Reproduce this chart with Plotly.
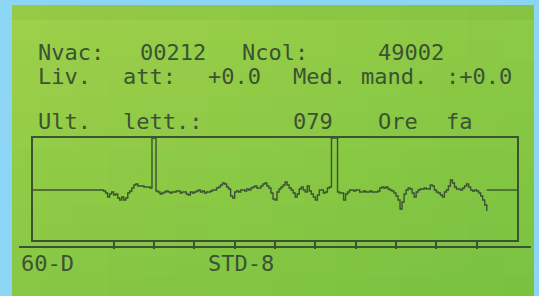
import plotly.graph_objects as go

# ---- data ----
line1_tokens = ["Nvac:", "00212", "Ncol:", "49002"]
line1_cells = [0, 6, 12, 20]
line2_tokens = ["Liv.", "att:", "+0.0", "Med.", "mand.", ":+0.0"]
line2_cells = [0, 5, 10, 15, 19, 24]
line3_tokens = ["Ult.", "lett.:", "079", "Ore", "fa"]
line3_cells = [0, 5, 15, 20, 24]
footer_left = "60-D"
footer_mid = "STD-8"

tick_positions = [40, 60, 80, 100, 120, 140, 160, 180, 200, 220]

sig_x = [0] + list(range(33, 226))
sig_y = [0,
    0, 0, -1, -3, -7, -4, -2, -5, -4, -8,
    -10, -7, -10, -8, -3, -1, 2, 5, 6, 4,
    4, 4, 3, 3, 3, 2, 52, 52, -1, -2,
    -4, -3, -2, -1, -2, -3, -2, -2, -1, -1,
    -3, -2, -2, -4, -5, -2, -3, -2, -1, 0,
    -2, -1, -3, -2, -2, -1, 0, 0, 2, 3,
    5, 7, 6, 3, 1, -6, -8, -2, -1, -2,
    0, 0, -1, 1, 0, 2, 3, 4, 2, 2,
    4, 6, 7, 4, 2, -3, -9, -10, -2, 1,
    3, 5, 8, 5, 2, 0, -3, -7, -4, 1,
    3, 0, -2, 4, -1, -4, -7, -10, -5, 0,
    0, -3, -2, 2, 3, 52, 52, 52, -2, -3,
    -3, -10, -4, -2, 0, 0, -1, 0, 0, -2,
    -2, -1, -2, -2, -1, -2, -2, -2, -1, 2,
    3, 2, 3, 1, 0, -1, -3, -6, -10, -19,
    -12, -4, 0, 2, 1, -3, -7, -2, 0, 1,
    1, 2, 1, 1, 5, 4, 0, -2, -3, -5,
    -7, -2, 0, 4, 10, 7, 3, 1, 1, 0,
    2, 4, 6, 3, 0, -1, 0, -1, -3, -6,
    -10, -15, -21]
ref_x = [225, 240]
ref_y = [0, 0]

# ---- style ----
W, H = 539, 296
L, R, T, B = 33, 517, 138, 240
INK = "#3b5233"
BLUE = "#8cd5f5"
LCD = "#9ed14a"
FONT = "DejaVu Sans Mono"
FS = 22


def px(x):
    return (x - L) / (R - L)


def py(y):
    return (B - y) / (B - T)


fig = go.Figure()
fig.add_trace(go.Scatter(x=sig_x, y=sig_y, mode="lines", line=dict(color=INK, width=1.4, shape="hv"),
                         hoverinfo="skip", showlegend=False))
fig.add_trace(go.Scatter(x=ref_x, y=ref_y, mode="lines", line=dict(color=INK, width=1.4),
                         hoverinfo="skip", showlegend=False))

shapes = [
    dict(type="rect", xref="paper", yref="paper", x0=px(12), x1=px(534), y0=py(296), y1=py(5),
         fillcolor=LCD, line=dict(width=0), layer="below"),
]
# soft shading: greener towards the bottom and the right (photo lighting)
N = 16
for i in range(N):
    y0 = 5 + (296 - 5) * i / N
    y1 = 5 + (296 - 5) * (i + 1) / N
    shapes.append(dict(type="rect", xref="paper", yref="paper", x0=px(12), x1=px(534),
                       y0=py(y1), y1=py(y0), fillcolor="rgba(50,165,50,%.3f)" % (0.22 * i / N),
                       line=dict(width=0), layer="below"))
for i in range(N):
    x0 = 12 + (534 - 12) * i / N
    x1 = 12 + (534 - 12) * (i + 1) / N
    shapes.append(dict(type="rect", xref="paper", yref="paper", x0=px(x0), x1=px(x1),
                       y0=py(296), y1=py(5), fillcolor="rgba(50,165,50,%.3f)" % (0.16 * i / N),
                       line=dict(width=0), layer="below"))
shapes.append(dict(type="rect", xref="paper", yref="paper", x0=px(12), x1=px(534), y0=py(20), y1=py(5),
                   fillcolor="rgba(70,150,40,0.10)", line=dict(width=0), layer="below"))
shapes.append(dict(type="line", xref="paper", yref="paper", x0=px(19), x1=px(531), y0=py(247), y1=py(247),
                   line=dict(color=INK, width=2)))

annotations = []
CELL = 17
for tokens, cells, yc in [(line1_tokens, line1_cells, 52), (line2_tokens, line2_cells, 76),
                          (line3_tokens, line3_cells, 122)]:
    for tok, c in zip(tokens, cells):
        annotations.append(dict(text=tok, xref="paper", yref="paper", x=px(36 + CELL * c), y=py(yc),
                                xanchor="left", yanchor="middle", showarrow=False,
                                font=dict(family=FONT, size=FS, color=INK)))
annotations.append(dict(text=footer_left, xref="paper", yref="paper", x=px(19), y=py(263),
                        xanchor="left", yanchor="middle", showarrow=False,
                        font=dict(family=FONT, size=FS, color=INK)))
annotations.append(dict(text=footer_mid, xref="paper", yref="paper", x=px(206), y=py(263),
                        xanchor="left", yanchor="middle", showarrow=False,
                        font=dict(family=FONT, size=FS, color=INK)))

fig.update_layout(
    width=W, height=H,
    margin=dict(l=L, r=W - R, t=T, b=H - B, pad=0),
    paper_bgcolor=BLUE, plot_bgcolor="rgba(0,0,0,0)",
    shapes=shapes, annotations=annotations, showlegend=False,
    xaxis=dict(range=[0, 240], showgrid=False, zeroline=False, showticklabels=False,
               tickvals=tick_positions, ticks="outside", ticklen=7, tickwidth=1.5, tickcolor=INK,
               showline=True, mirror=True, linecolor=INK, linewidth=2),
    yaxis=dict(range=[-50, 52], showgrid=False, zeroline=False, showticklabels=False,
               showline=True, mirror=True, linecolor=INK, linewidth=2),
)

fig.write_html("out.html", config={"displayModeBar": False},
               post_script="document.body.style.margin='0';document.body.style.overflow='hidden';")
